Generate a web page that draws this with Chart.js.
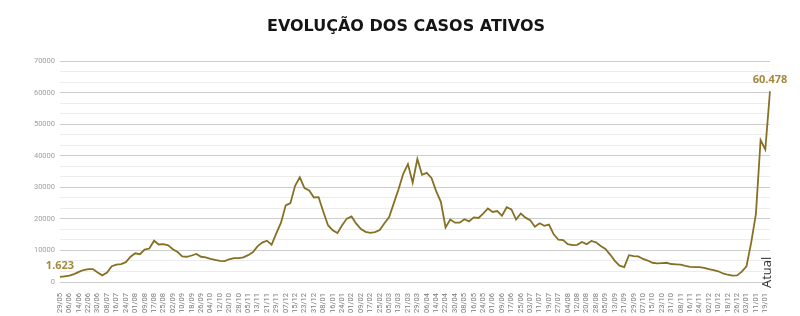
<!DOCTYPE html>
<html>
<head>
<meta charset="utf-8">
<script src="https://cdn.jsdelivr.net/npm/chart.js@4"></script>
<style>
html, body { margin: 0; padding: 0; background: #fff; }
</style>
</head>
<body>
<canvas id="grafico" width="800" height="316"></canvas>
<script>
// dados: casos ativos a cada 4 dias desde 29/05/2020, ultimo ponto = "Atual"
const dataInicial = [2020, 4, 29];
const passoDias = 4;
const ultimoRotulo = 'Atual';
const casos = [
  1623, 1800, 2000, 2500, 3200, 3800, 4100, 4100, 3000, 2100,
  3000, 5000, 5500, 5700, 6300, 8000, 9100, 8800, 10300, 10600,
  13100, 11900, 12000, 11600, 10400, 9500, 8100, 8000, 8400, 8900,
  8000, 7800, 7300, 7000, 6700, 6600, 7200, 7600, 7600, 7800,
  8500, 9400, 11300, 12500, 13100, 11800, 15400, 18800, 24300, 25000,
  30500, 33200, 29800, 29000, 26800, 26900, 22300, 18000, 16400, 15500,
  18000, 20100, 20800, 18500, 16800, 15900, 15600, 15800, 16500, 18600,
  20600, 25000, 29400, 34300, 37400, 31500, 39000, 34000, 34600, 33000,
  28800, 25400, 17300, 19800, 18800, 18800, 19900, 19200, 20500, 20300,
  21700, 23300, 22200, 22500, 21000, 23700, 23000, 19800, 21700, 20400,
  19600, 17500, 18600, 17800, 18200, 15100, 13400, 13300, 12000, 11700,
  11800, 12700, 12000, 13000, 12600, 11400, 10500, 8700, 6700, 5200,
  4700, 8500, 8200, 8100, 7300, 6800, 6100, 5900, 6000, 6100,
  5700, 5600, 5500, 5100, 4800, 4700, 4700, 4500, 4100, 3800,
  3400, 2700, 2300, 2000, 2100, 3300, 5000, 12500, 21500, 45000,
  42000, 60478
];
const yMax = 70000;
const yPrincipal = 10000;
const ySecundarias = 3;

const labels = [];
for (let i = 0; i < casos.length - 1; i++) {
  const d = new Date(Date.UTC(dataInicial[0], dataInicial[1], dataInicial[2]) + i * passoDias * 86400000);
  labels.push(String(d.getUTCDate()).padStart(2, '0') + '/' + String(d.getUTCMonth() + 1).padStart(2, '0'));
}
labels.push(ultimoRotulo);

const yTicks = [];
for (let i = 0; i <= yMax / yPrincipal * ySecundarias; i++) yTicks.push(i * yPrincipal / ySecundarias);

function ehPrincipal(v) {
  return Math.abs(v / yPrincipal - Math.round(v / yPrincipal)) < 1e-6;
}
function formata(v) {
  return String(v).replace(/\B(?=(\d{3})+(?!\d))/g, '.');
}

// rotulos 1.623 / 60.478 e texto "Atual"
const etiquetas = {
  id: 'etiquetas',
  afterLayout(chart) {
    // centraliza o titulo um pouco mais a direita, como no original
    if (chart.titleBlock) chart.titleBlock.left += 42;
  },
  afterDatasetsDraw(chart) {
    const ctx = chart.ctx;
    const meta = chart.getDatasetMeta(0);
    const n = casos.length;
    ctx.save();
    ctx.font = 'bold 11px "Open Sans"';
    ctx.fillStyle = '#a38a3e';
    ctx.textAlign = 'center';
    ctx.textBaseline = 'bottom';
    [0, n - 1].forEach(function (i) {
      const p = meta.data[i];
      ctx.fillText(formata(casos[i]), p.x, p.y - 6);
    });
    const p = meta.data[n - 1];
    ctx.translate(p.x - 3, chart.scales.y.getPixelForValue(0) + 6);
    ctx.rotate(-Math.PI / 2);
    ctx.font = '13px "Open Sans"';
    ctx.fillStyle = '#333';
    ctx.textAlign = 'left';
    ctx.textBaseline = 'middle';
    ctx.fillText(ultimoRotulo, 0, 0);
    ctx.restore();
  }
};

const graph = document.querySelector('#grafico');

const config = {
  type: 'line',
  data: {
    labels: labels,
    datasets: [{
      label: 'Casos ativos',
      data: casos,
      borderColor: '#857023',
      borderWidth: 1.8,
      pointRadius: 0,
      tension: 0,
      fill: false
    }]
  },
  options: {
    responsive: false,
    animation: false,
    layout: { padding: { left: 0, right: 30, top: 0, bottom: 0 } },
    plugins: {
      legend: { display: false },
      tooltip: { enabled: false },
      title: {
        display: true,
        text: 'EVOLUÇÃO DOS CASOS ATIVOS',
        color: '#151515',
        font: { family: 'DejaVu Sans', size: 16, weight: 'bold' },
        padding: { top: 17, bottom: 25 }
      }
    },
    scales: {
      x: {
        grid: { display: false },
        border: { display: false },
        ticks: {
          autoSkip: false,
          minRotation: 90,
          maxRotation: 90,
          padding: 3,
          color: '#7a7a7a',
          font: { family: 'Roboto', size: 7.5 },
          callback: function (v, i) {
            return (i % 2 === 0 && i < casos.length - 1) ? labels[i] : '';
          }
        },
        afterFit: function (s) { s.height = 34; }
      },
      y: {
        min: 0,
        max: yMax,
        border: { display: false },
        grid: {
          drawTicks: false,
          color: function (c) { return ehPrincipal(c.tick.value) ? '#cdcdcd' : '#ececec'; }
        },
        ticks: {
          autoSkip: false,
          padding: 5,
          color: '#a0a0a0',
          font: { family: 'Roboto', size: 7.5 },
          callback: function (v) { return ehPrincipal(v) ? String(Math.round(v)) : ''; }
        },
        afterBuildTicks: function (s) { s.ticks = yTicks.map(function (v) { return { value: v }; }); },
        afterFit: function (s) { s.width = 60; }
      }
    }
  },
  plugins: [etiquetas]
};

new Chart(graph, config);
</script>
</body>
</html>
